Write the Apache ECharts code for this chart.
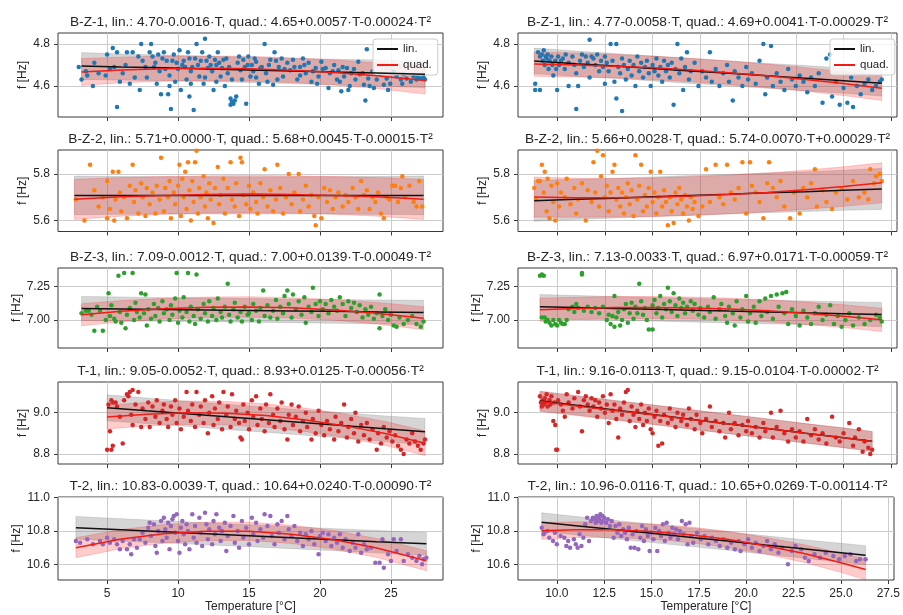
<!DOCTYPE html>
<html>
<head>
<meta charset="utf-8">
<title>Eigenfrequencies vs temperature</title>
<script src="https://cdn.jsdelivr.net/npm/echarts@6/dist/echarts.min.js"></script>
<style>
  html, body { margin: 0; padding: 0; background: #fff; }
  #chart { width: 903px; height: 615px; }
</style>
</head>
<body>
<div id="chart"></div>
<script>
// ---- data ----
const sensors = ['B-Z-1', 'B-Z-2', 'B-Z-3', 'T-1', 'T-2'];
const titlesL = [
  'B-Z-1, lin.: 4.70-0.0016·T, quad.: 4.65+0.0057·T-0.00024·T²',
  'B-Z-2, lin.: 5.71+0.0000·T, quad.: 5.68+0.0045·T-0.00015·T²',
  'B-Z-3, lin.: 7.09-0.0012·T, quad.: 7.00+0.0139·T-0.00049·T²',
  'T-1, lin.: 9.05-0.0052·T, quad.: 8.93+0.0125·T-0.00056·T²',
  'T-2, lin.: 10.83-0.0039·T, quad.: 10.64+0.0240·T-0.00090·T²'
];
const titlesR = [
  'B-Z-1, lin.: 4.77-0.0058·T, quad.: 4.69+0.0041·T-0.00029·T²',
  'B-Z-2, lin.: 5.66+0.0028·T, quad.: 5.74-0.0070·T+0.00029·T²',
  'B-Z-3, lin.: 7.13-0.0033·T, quad.: 6.97+0.0171·T-0.00059·T²',
  'T-1, lin.: 9.16-0.0113·T, quad.: 9.15-0.0104·T-0.00002·T²',
  'T-2, lin.: 10.96-0.0116·T, quad.: 10.65+0.0269·T-0.00114·T²'
];

const xRangeL = [1.54, 28.67];
const xRangeR = [7.95, 27.8];
const xTicksL = [5, 10, 15, 20, 25];
const xTicksR = [10, 12.5, 15, 17.5, 20, 22.5, 25, 27.5];
const yRanges = [[4.452, 4.852], [5.553, 5.903], [6.792, 7.388], [8.751, 9.149], [10.506, 11.004]];
const yTicks = [[4.6, 4.8], [5.6, 5.8], [7.0, 7.25], [8.8, 9.0], [10.6, 10.8, 11.0]];
const yDigits = [1, 1, 2, 1, 1];

// fitted curves, sampled along temperature
const fitTL = [
  [3.2, 6, 9, 12, 15, 18, 21, 24, 27.4],
  [2.7, 6, 9, 12, 15, 18, 21, 24, 27.3],
  [3.2, 6, 9, 12, 15, 18, 21, 24, 27.3],
  [5, 7.8, 10.6, 13.4, 16.2, 19, 21.8, 24.6, 27.4],
  [2.8, 6, 9, 12, 15, 18, 21, 24, 27.5]
];
const linL = [
  [4.695, 4.690, 4.686, 4.681, 4.676, 4.671, 4.666, 4.662, 4.656],
  [5.708, 5.708, 5.708, 5.708, 5.708, 5.708, 5.708, 5.708, 5.708],
  [7.086, 7.083, 7.079, 7.076, 7.072, 7.068, 7.065, 7.061, 7.057],
  [9.024, 9.009, 8.995, 8.980, 8.966, 8.951, 8.937, 8.922, 8.908],
  [10.819, 10.807, 10.795, 10.783, 10.772, 10.760, 10.748, 10.736, 10.723]
];
const quadL = [
  [4.666, 4.676, 4.682, 4.684, 4.682, 4.675, 4.664, 4.649, 4.626],
  [5.691, 5.702, 5.708, 5.712, 5.714, 5.712, 5.708, 5.702, 5.691],
  [7.040, 7.066, 7.085, 7.096, 7.098, 7.091, 7.076, 7.051, 7.014],
  [8.979, 8.993, 9.000, 8.997, 8.986, 8.965, 8.936, 8.899, 8.852],
  [10.700, 10.752, 10.783, 10.798, 10.798, 10.780, 10.747, 10.698, 10.622]
];
const linHwL = [
  [0.064, 0.062, 0.061, 0.060, 0.060, 0.060, 0.061, 0.062, 0.064],
  [0.083, 0.081, 0.080, 0.080, 0.080, 0.080, 0.080, 0.081, 0.083],
  [0.090, 0.089, 0.088, 0.088, 0.088, 0.088, 0.088, 0.089, 0.090],
  [0.063, 0.062, 0.061, 0.061, 0.061, 0.061, 0.061, 0.062, 0.064],
  [0.068, 0.067, 0.066, 0.066, 0.066, 0.066, 0.066, 0.067, 0.068]
];
const quadHwL = [
  [0.064, 0.061, 0.060, 0.059, 0.059, 0.059, 0.060, 0.061, 0.065],
  [0.086, 0.083, 0.081, 0.080, 0.080, 0.080, 0.081, 0.083, 0.086],
  [0.082, 0.079, 0.077, 0.076, 0.076, 0.076, 0.077, 0.080, 0.086],
  [0.058, 0.057, 0.057, 0.057, 0.057, 0.057, 0.057, 0.058, 0.060],
  [0.060, 0.057, 0.056, 0.055, 0.055, 0.055, 0.056, 0.057, 0.060]
];

const fitTR = [
  [8.8, 11, 13, 15, 17, 19, 21, 23, 25, 27],
  [8.8, 11, 13, 15, 17, 19, 21, 23, 25, 27],
  [9.1, 11, 13, 15, 17, 19, 21, 23, 25, 27],
  [9.1, 11, 13, 15, 17, 19, 21, 23, 25, 26.5],
  [9.2, 11, 13, 15, 17, 19, 21, 23, 25, 26.3]
];
const linR = [
  [4.719, 4.706, 4.695, 4.683, 4.671, 4.660, 4.648, 4.637, 4.625, 4.613],
  [5.685, 5.691, 5.696, 5.702, 5.708, 5.713, 5.719, 5.724, 5.730, 5.736],
  [7.100, 7.094, 7.087, 7.081, 7.074, 7.067, 7.061, 7.054, 7.048, 7.041],
  [9.057, 9.036, 9.013, 8.991, 8.968, 8.945, 8.923, 8.900, 8.878, 8.861],
  [10.853, 10.832, 10.809, 10.786, 10.763, 10.740, 10.716, 10.693, 10.670, 10.655]
];
const quadR = [
  [4.704, 4.700, 4.694, 4.686, 4.676, 4.663, 4.648, 4.631, 4.611, 4.589],
  [5.701, 5.698, 5.698, 5.700, 5.705, 5.712, 5.721, 5.732, 5.746, 5.762],
  [7.077, 7.087, 7.093, 7.094, 7.090, 7.082, 7.069, 7.051, 7.029, 7.002],
  [9.054, 9.033, 9.011, 8.990, 8.967, 8.945, 8.923, 8.900, 8.878, 8.860],
  [10.801, 10.808, 10.807, 10.797, 10.778, 10.750, 10.712, 10.666, 10.610, 10.569]
];
const linHwR = [
  [0.061, 0.060, 0.059, 0.059, 0.059, 0.059, 0.059, 0.060, 0.060, 0.061],
  [0.088, 0.086, 0.085, 0.085, 0.085, 0.085, 0.085, 0.085, 0.086, 0.088],
  [0.090, 0.089, 0.088, 0.088, 0.088, 0.088, 0.088, 0.089, 0.089, 0.090],
  [0.048, 0.047, 0.047, 0.047, 0.047, 0.047, 0.047, 0.047, 0.048, 0.048],
  [0.056, 0.055, 0.055, 0.055, 0.055, 0.055, 0.055, 0.055, 0.056, 0.057]
];
const quadHwR = [
  [0.058, 0.057, 0.056, 0.056, 0.056, 0.056, 0.056, 0.056, 0.057, 0.058],
  [0.086, 0.084, 0.083, 0.083, 0.083, 0.083, 0.083, 0.084, 0.085, 0.086],
  [0.086, 0.083, 0.082, 0.082, 0.082, 0.082, 0.082, 0.083, 0.085, 0.087],
  [0.048, 0.047, 0.047, 0.047, 0.047, 0.047, 0.047, 0.047, 0.048, 0.048],
  [0.050, 0.047, 0.046, 0.046, 0.047, 0.048, 0.050, 0.053, 0.058, 0.062]
];

// measured points [temperature, frequency]
const bz1L = [[3.0,4.69],[3.2,4.63],[3.5,4.67],[3.6,4.65],[4.0,4.60],[4.1,4.71],[4.4,4.66],[4.9,4.65],[5.0,4.75],[5.2,4.68],[5.4,4.78],[5.5,4.69],[5.7,4.76],[5.7,4.50],[5.9,4.62],[6.1,4.66],[6.3,4.70],[6.4,4.76],[6.6,4.61],[6.8,4.76],[6.95,4.64],[7.2,4.74],[7.3,4.58],[7.4,4.80],[7.5,4.72],[7.7,4.69],[7.8,4.64],[8.0,4.76],[8.1,4.80],[8.2,4.74],[8.3,4.69],[8.4,4.71],[8.5,4.61],[8.6,4.75],[8.7,4.67],[8.8,4.56],[8.9,4.73],[9.0,4.76],[9.1,4.68],[9.2,4.72],[9.3,4.56],[9.4,4.65],[9.4,4.60],[9.5,4.49],[9.6,4.72],[9.7,4.75],[9.8,4.62],[9.9,4.71],[10.0,4.68],[10.1,4.77],[10.2,4.58],[10.3,4.70],[10.4,4.72],[10.5,4.69],[10.6,4.63],[10.7,4.76],[10.8,4.55],[10.8,4.73],[10.9,4.67],[10.9,4.61],[11.0,4.69],[11.1,4.485],[11.2,4.73],[11.3,4.80],[11.4,4.70],[11.5,4.645],[11.6,4.72],[11.7,4.76],[11.8,4.61],[11.9,4.825],[11.9,4.64],[12.0,4.72],[12.1,4.685],[12.2,4.74],[12.3,4.70],[12.4,4.67],[12.5,4.58],[12.6,4.725],[12.7,4.70],[12.7,4.62],[12.8,4.76],[12.9,4.71],[13.0,4.645],[13.1,4.685],[13.2,4.725],[13.3,4.60],[13.4,4.73],[13.5,4.66],[13.6,4.69],[13.7,4.54],[13.7,4.51],[13.8,4.525],[13.8,4.63],[13.9,4.515],[14.0,4.53],[14.1,4.55],[14.2,4.71],[14.3,4.74],[14.4,4.675],[14.5,4.63],[14.6,4.725],[14.7,4.69],[14.8,4.515],[14.9,4.70],[14.95,4.74],[15.1,4.645],[15.2,4.70],[15.3,4.67],[15.4,4.73],[15.5,4.715],[15.5,4.64],[15.7,4.61],[15.8,4.685],[15.9,4.69],[16.1,4.80],[16.2,4.66],[16.3,4.62],[16.4,4.70],[16.5,4.725],[16.7,4.605],[16.8,4.76],[16.9,4.72],[17.0,4.63],[17.1,4.69],[17.3,4.73],[17.4,4.645],[17.5,4.68],[17.7,4.71],[17.9,4.675],[18.1,4.725],[18.2,4.69],[18.4,4.63],[18.6,4.69],[18.6,4.65],[18.8,4.73],[18.9,4.70],[19.0,4.66],[19.2,4.71],[19.4,4.62],[19.5,4.67],[19.7,4.685],[19.8,4.61],[19.9,4.645],[20.1,4.715],[20.2,4.68],[20.4,4.685],[20.6,4.59],[20.7,4.66],[20.9,4.67],[21.0,4.70],[21.2,4.63],[21.3,4.675],[21.4,4.62],[21.5,4.575],[21.6,4.69],[21.7,4.645],[21.9,4.685],[22.0,4.58],[22.1,4.60],[22.2,4.66],[22.4,4.68],[22.5,4.63],[22.7,4.715],[22.8,4.655],[23.0,4.66],[23.1,4.605],[23.2,4.53],[23.3,4.775],[23.4,4.635],[23.5,4.60],[23.7,4.67],[23.8,4.59],[24.0,4.63],[24.2,4.655],[24.5,4.605],[24.7,4.635],[24.8,4.58],[24.95,4.61],[25.2,4.67],[25.4,4.645],[25.7,4.63],[25.8,4.61],[25.9,4.655],[26.1,4.635],[26.4,4.62],[26.6,4.645],[26.8,4.63],[26.9,4.64],[27.1,4.635],[27.3,4.64],[27.4,4.63]];
const bz2L = [[2.8,5.69],[3.4,5.60],[3.8,5.84],[4.1,5.73],[4.4,5.66],[4.7,5.70],[5.0,5.77],[5.0,5.61],[5.2,5.65],[5.4,5.81],[5.5,5.60],[5.6,5.69],[5.8,5.81],[5.9,5.72],[6.0,5.64],[6.2,5.70],[6.4,5.61],[6.6,5.75],[6.8,5.84],[6.9,5.68],[7.0,5.73],[7.2,5.63],[7.4,5.76],[7.5,5.70],[7.7,5.62],[7.8,5.74],[8.0,5.67],[8.2,5.72],[8.4,5.63],[8.5,5.75],[8.7,5.69],[8.8,5.87],[9.0,5.64],[9.1,5.74],[9.3,5.70],[9.4,5.77],[9.5,5.61],[9.7,5.72],[9.8,5.67],[10.0,5.75],[10.1,5.84],[10.2,5.62],[10.3,5.78],[10.4,5.70],[10.5,5.81],[10.6,5.65],[10.7,5.85],[10.8,5.73],[10.9,5.60],[11.0,5.77],[11.1,5.68],[11.2,5.85],[11.3,5.90],[11.4,5.63],[11.5,5.74],[11.6,5.70],[11.8,5.79],[11.9,5.66],[12.0,5.72],[12.1,5.61],[12.2,5.76],[12.3,5.69],[12.5,5.59],[12.6,5.74],[12.8,5.83],[12.9,5.67],[13.0,5.71],[13.2,5.78],[13.3,5.63],[13.5,5.74],[13.7,5.85],[13.8,5.69],[14.0,5.66],[14.1,5.76],[14.3,5.62],[14.4,5.87],[14.5,5.85],[14.6,5.71],[14.8,5.67],[15.0,5.75],[15.1,5.65],[15.3,5.72],[15.5,5.68],[15.6,5.63],[15.8,5.76],[16.0,5.70],[16.1,5.82],[16.3,5.66],[16.5,5.73],[16.7,5.64],[16.9,5.69],[17.0,5.84],[17.2,5.74],[17.4,5.63],[17.6,5.70],[17.8,5.80],[18.0,5.67],[18.2,5.72],[18.5,5.80],[18.6,5.64],[18.8,5.69],[19.0,5.75],[19.2,5.66],[19.4,5.71],[19.6,5.62],[19.7,5.58],[19.9,5.70],[20.1,5.61],[20.3,5.74],[20.5,5.68],[20.7,5.73],[20.9,5.65],[21.1,5.70],[21.3,5.72],[21.6,5.66],[21.8,5.71],[22.0,5.68],[22.3,5.74],[22.5,5.70],[22.7,5.65],[22.9,5.77],[23.1,5.71],[23.3,5.73],[23.5,5.65],[23.7,5.70],[23.9,5.68],[24.1,5.72],[24.3,5.63],[24.5,5.61],[24.7,5.70],[24.9,5.69],[25.1,5.75],[25.3,5.75],[25.5,5.68],[25.7,5.74],[25.8,5.79],[26.0,5.70],[26.3,5.75],[26.6,5.68],[26.8,5.66],[27.0,5.77],[27.2,5.66]];
const bz3L = [[3.2,7.05],[3.5,7.07],[3.7,7.07],[3.9,7.04],[4.1,6.92],[4.3,7.10],[4.5,7.07],[4.7,6.92],[4.9,7.00],[5.1,7.20],[5.2,7.03],[5.3,7.11],[5.5,7.01],[5.6,6.99],[5.8,7.33],[5.9,7.06],[6.0,6.98],[6.2,7.35],[6.3,6.94],[6.4,7.04],[6.6,7.09],[6.8,7.35],[6.9,7.00],[7.0,7.13],[7.1,7.06],[7.3,7.02],[7.4,7.20],[7.6,7.05],[7.7,7.19],[7.8,6.96],[7.9,7.08],[8.1,7.01],[8.3,7.12],[8.4,7.03],[8.6,7.09],[8.7,6.99],[8.9,7.14],[9.0,7.05],[9.2,7.08],[9.4,7.00],[9.5,7.11],[9.6,7.04],[9.8,7.16],[9.9,7.35],[10.0,6.98],[10.1,7.07],[10.3,7.02],[10.4,7.17],[10.6,7.06],[10.7,7.35],[10.8,6.99],[10.9,7.10],[11.1,7.03],[11.2,6.97],[11.3,7.34],[11.4,7.08],[11.6,7.01],[11.8,7.12],[11.9,7.05],[12.1,6.99],[12.2,7.14],[12.4,7.03],[12.5,7.09],[12.7,7.00],[12.8,7.16],[13.0,7.06],[13.1,7.02],[13.3,7.10],[13.5,7.27],[13.6,7.04],[13.7,6.99],[13.9,7.08],[14.0,7.13],[14.2,7.02],[14.4,7.06],[14.5,6.99],[14.7,7.10],[14.9,7.04],[15.0,7.05],[15.2,7.00],[15.3,7.12],[15.5,7.07],[15.7,6.99],[15.8,7.09],[16.0,7.22],[16.1,7.03],[16.3,7.11],[16.5,7.02],[16.7,7.07],[16.9,7.15],[17.0,7.01],[17.2,7.10],[17.4,7.05],[17.5,7.18],[17.7,7.22],[17.8,7.12],[18.0,7.02],[18.1,7.19],[18.3,7.08],[18.5,7.14],[18.7,7.04],[18.9,7.17],[19.0,6.98],[19.2,7.10],[19.4,7.06],[19.5,7.24],[19.7,7.12],[19.9,7.03],[20.0,7.14],[20.2,7.08],[20.4,7.12],[20.6,7.05],[20.8,7.15],[21.0,7.10],[21.2,7.07],[21.4,7.17],[21.6,7.12],[21.8,7.03],[22.0,7.14],[22.2,7.09],[22.4,7.13],[22.6,7.06],[22.8,7.11],[23.0,7.02],[23.2,7.08],[23.4,7.04],[23.6,7.10],[23.8,7.01],[24.0,7.05],[24.2,7.19],[24.2,6.94],[24.4,7.03],[24.6,7.08],[24.8,7.00],[25.0,7.04],[25.2,6.96],[25.4,6.95],[25.6,7.02],[25.9,6.97],[26.2,7.00],[26.5,7.03],[26.8,6.97],[27.1,6.95],[27.3,6.99]];
const t1L = [[5.0,8.82],[5.3,8.82],[5.4,8.84],[5.2,8.91],[5.1,9.04],[5.3,9.06],[5.4,9.05],[5.6,9.05],[5.7,9.03],[5.9,8.98],[6.1,8.85],[6.2,9.06],[6.4,9.09],[6.5,9.08],[6.6,9.10],[6.7,8.99],[6.8,9.11],[6.8,8.94],[7.0,9.04],[7.2,9.10],[7.4,8.93],[7.5,9.02],[7.7,8.97],[7.9,9.05],[8.0,8.93],[8.2,9.03],[8.4,8.98],[8.5,9.06],[8.7,8.95],[8.9,9.01],[9.0,9.04],[9.2,8.97],[9.3,8.93],[9.5,9.03],[9.6,8.99],[9.8,9.06],[9.9,8.95],[10.1,9.02],[10.2,8.92],[10.4,8.98],[10.6,9.10],[10.7,9.01],[10.9,8.96],[11.0,9.04],[11.2,8.93],[11.3,9.10],[11.5,8.99],[11.6,9.03],[11.8,8.95],[11.9,9.06],[12.1,8.90],[12.2,9.00],[12.4,9.08],[12.5,8.94],[12.6,9.02],[12.8,8.97],[12.9,9.05],[13.1,8.92],[13.2,9.10],[13.4,8.99],[13.5,9.03],[13.7,8.93],[13.8,9.09],[14.0,8.97],[14.1,9.01],[14.3,8.95],[14.4,8.88],[14.5,8.87],[14.6,9.04],[14.7,8.96],[14.9,9.00],[15.0,8.92],[15.2,9.06],[15.3,8.98],[15.5,9.08],[15.6,8.94],[15.8,9.02],[15.9,8.97],[16.1,8.91],[16.2,9.04],[16.4,8.95],[16.5,9.09],[16.7,8.99],[16.8,8.93],[17.0,9.02],[17.2,8.96],[17.3,9.05],[17.5,8.92],[17.7,8.87],[17.8,8.99],[18.0,9.04],[18.1,8.94],[18.3,8.98],[18.5,9.03],[18.6,8.91],[18.8,8.96],[19.0,9.00],[19.1,8.93],[19.4,8.87],[19.5,8.97],[19.7,8.90],[19.9,9.01],[20.1,8.94],[20.3,8.89],[20.5,8.96],[20.7,8.92],[21.0,8.87],[21.1,8.98],[21.3,8.91],[21.5,8.95],[21.7,9.04],[21.9,8.88],[22.0,8.93],[22.2,8.97],[22.4,8.90],[22.5,9.00],[22.7,8.86],[22.9,8.94],[23.1,8.89],[23.3,8.95],[23.5,8.87],[23.7,8.92],[24.0,8.82],[24.1,8.90],[24.3,8.85],[24.5,8.93],[24.7,8.88],[24.9,8.91],[25.1,8.86],[25.3,8.89],[25.5,8.84],[25.7,8.82],[25.9,8.80],[26.1,8.87],[26.3,8.85],[26.5,8.90],[26.7,8.86],[26.9,8.84],[27.1,8.82],[27.3,8.85],[27.4,8.87]];
const t2L = [[2.8,10.74],[3.1,10.73],[3.6,10.75],[4.0,10.72],[4.5,10.74],[4.7,10.72],[5.0,10.76],[5.2,10.73],[5.5,10.75],[5.7,10.72],[5.9,10.69],[6.1,10.74],[6.4,10.69],[6.6,10.72],[6.7,10.66],[6.9,10.75],[7.1,10.70],[7.3,10.75],[7.5,10.79],[7.7,10.73],[7.9,10.82],[8.0,10.85],[8.1,10.77],[8.3,10.84],[8.4,10.71],[8.5,10.67],[8.6,10.80],[8.8,10.86],[8.9,10.74],[9.0,10.88],[9.1,10.81],[9.2,10.76],[9.3,10.85],[9.4,10.69],[9.5,10.83],[9.6,10.87],[9.7,10.89],[9.8,10.79],[9.9,10.90],[10.0,10.74],[10.1,10.67],[10.2,10.82],[10.3,10.86],[10.4,10.78],[10.5,10.72],[10.6,10.84],[10.7,10.80],[10.8,10.69],[11.0,10.90],[11.1,10.76],[11.2,10.83],[11.3,10.73],[11.5,10.88],[11.6,10.79],[11.7,10.71],[11.9,10.91],[12.0,10.84],[12.1,10.75],[12.2,10.81],[12.4,10.72],[12.5,10.86],[12.6,10.78],[12.7,10.90],[12.9,10.82],[13.0,10.74],[13.1,10.80],[13.3,10.85],[13.4,10.68],[13.5,10.77],[13.7,10.83],[13.9,10.89],[14.0,10.73],[14.2,10.80],[14.3,10.70],[14.5,10.86],[14.6,10.76],[14.8,10.82],[15.0,10.72],[15.2,10.88],[15.3,10.78],[15.5,10.85],[15.6,10.74],[15.8,10.81],[16.0,10.76],[16.1,10.90],[16.3,10.83],[16.5,10.89],[16.6,10.77],[16.8,10.72],[17.0,10.84],[17.1,10.79],[17.3,10.86],[17.5,10.75],[17.7,10.89],[17.8,10.81],[18.0,10.77],[18.2,10.83],[18.4,10.74],[18.6,10.79],[18.8,10.71],[19.0,10.78],[19.2,10.75],[19.4,10.80],[19.6,10.72],[19.9,10.66],[20.0,10.77],[20.2,10.79],[20.4,10.74],[20.6,10.78],[20.8,10.71],[21.0,10.76],[21.2,10.73],[21.4,10.78],[21.6,10.70],[21.8,10.75],[22.1,10.68],[22.3,10.73],[22.5,10.70],[22.7,10.78],[22.9,10.67],[23.1,10.72],[23.3,10.69],[23.6,10.70],[23.9,10.61],[24.2,10.61],[24.4,10.75],[24.5,10.58],[24.8,10.66],[25.0,10.62],[25.2,10.75],[25.4,10.68],[25.7,10.75],[25.9,10.62],[26.2,10.66],[26.5,10.64],[26.8,10.62],[27.0,10.65],[27.2,10.60],[27.3,10.63],[27.5,10.64]];

const bz1R = [[8.85,4.58],[8.85,4.61],[9.1,4.58],[9.0,4.76],[9.1,4.74],[9.2,4.75],[9.25,4.72],[9.3,4.77],[9.35,4.70],[9.4,4.74],[9.45,4.73],[9.5,4.75],[9.55,4.68],[9.6,4.72],[9.7,4.74],[9.75,4.70],[9.8,4.65],[9.9,4.72],[9.95,4.68],[10.0,4.58],[10.05,4.74],[10.1,4.70],[10.2,4.72],[10.3,4.73],[10.4,4.68],[10.45,4.75],[10.6,4.60],[10.6,4.71],[10.8,4.74],[10.9,4.70],[11.0,4.49],[11.0,4.66],[11.1,4.60],[11.2,4.72],[11.3,4.75],[11.4,4.69],[11.5,4.74],[11.6,4.71],[11.7,4.82],[11.7,4.64],[11.8,4.74],[11.9,4.73],[12.0,4.70],[12.1,4.75],[12.2,4.67],[12.3,4.72],[12.4,4.69],[12.5,4.61],[12.5,4.74],[12.6,4.71],[12.7,4.67],[12.8,4.80],[12.9,4.72],[13.0,4.62],[13.1,4.80],[13.1,4.54],[13.2,4.69],[13.3,4.66],[13.4,4.48],[13.4,4.73],[13.5,4.70],[13.6,4.63],[13.7,4.68],[13.8,4.72],[13.9,4.65],[14.0,4.70],[14.1,4.60],[14.2,4.74],[14.3,4.67],[14.4,4.71],[14.5,4.64],[14.6,4.69],[14.7,4.72],[14.8,4.66],[14.9,4.60],[15.0,4.70],[15.1,4.67],[15.2,4.73],[15.3,4.65],[15.4,4.69],[15.5,4.62],[15.6,4.72],[15.7,4.67],[15.8,4.70],[15.9,4.64],[16.0,4.71],[16.1,4.51],[16.2,4.68],[16.3,4.80],[16.4,4.66],[16.5,4.73],[16.6,4.58],[16.7,4.69],[16.8,4.76],[16.9,4.63],[17.0,4.67],[17.2,4.71],[17.4,4.60],[17.6,4.67],[17.8,4.64],[18.0,4.76],[18.1,4.62],[18.3,4.68],[18.5,4.60],[18.7,4.66],[18.9,4.70],[19.0,4.62],[19.2,4.53],[19.3,4.67],[19.5,4.64],[19.7,4.60],[19.9,4.69],[20.0,4.63],[20.2,4.66],[20.4,4.61],[20.6,4.72],[20.8,4.80],[20.9,4.56],[21.0,4.64],[21.2,4.79],[21.3,4.60],[21.5,4.66],[21.7,4.62],[21.9,4.58],[22.1,4.68],[22.3,4.63],[22.5,4.60],[22.7,4.65],[22.9,4.62],[23.1,4.57],[23.3,4.64],[23.5,4.60],[23.7,4.66],[23.9,4.52],[24.1,4.73],[24.3,4.75],[24.4,4.55],[24.6,4.62],[24.8,4.51],[25.0,4.59],[25.2,4.52],[25.4,4.64],[25.5,4.50],[25.7,4.60],[25.9,4.56],[26.1,4.61],[26.3,4.63],[26.5,4.58],[26.7,4.60],[26.9,4.62],[27.0,4.63]];
const bz2R = [[8.8,5.74],[8.9,5.69],[9.0,5.77],[9.1,5.77],[9.2,5.84],[9.3,5.72],[9.35,5.81],[9.45,5.64],[9.5,5.78],[9.6,5.61],[9.7,5.75],[9.8,5.68],[9.9,5.60],[10.0,5.76],[10.1,5.66],[10.2,5.72],[10.4,5.70],[10.5,5.78],[10.7,5.67],[10.9,5.74],[11.0,5.63],[11.1,5.69],[11.3,5.76],[11.5,5.60],[11.6,5.73],[11.8,5.68],[11.9,5.85],[12.0,5.72],[12.1,5.90],[12.2,5.66],[12.3,5.79],[12.4,5.88],[12.5,5.70],[12.6,5.75],[12.7,5.64],[12.8,5.72],[12.9,5.81],[13.0,5.84],[13.1,5.69],[13.2,5.74],[13.3,5.66],[13.4,5.72],[13.5,5.63],[13.6,5.70],[13.7,5.76],[13.8,5.67],[13.9,5.73],[14.0,5.62],[14.1,5.88],[14.2,5.69],[14.3,5.75],[14.4,5.84],[14.5,5.64],[14.6,5.71],[14.7,5.66],[14.8,5.74],[14.9,5.81],[15.0,5.68],[15.1,5.72],[15.2,5.63],[15.3,5.70],[15.4,5.81],[15.5,5.66],[15.6,5.73],[15.7,5.68],[15.8,5.58],[15.9,5.70],[16.0,5.64],[16.1,5.59],[16.2,5.72],[16.3,5.67],[16.4,5.74],[16.5,5.69],[16.6,5.63],[16.7,5.71],[16.8,5.66],[16.9,5.60],[17.0,5.70],[17.1,5.65],[17.2,5.68],[17.4,5.62],[17.6,5.66],[17.8,5.82],[18.0,5.68],[18.3,5.84],[18.5,5.70],[18.7,5.67],[18.9,5.84],[19.1,5.72],[19.3,5.69],[19.5,5.74],[19.7,5.85],[19.9,5.63],[20.1,5.85],[20.2,5.75],[20.4,5.72],[20.6,5.68],[20.8,5.61],[21.0,5.76],[21.1,5.85],[21.3,5.74],[21.5,5.70],[21.7,5.77],[21.9,5.66],[22.2,5.61],[22.4,5.72],[22.7,5.63],[22.9,5.74],[23.1,5.70],[23.3,5.76],[23.5,5.82],[23.6,5.66],[23.9,5.73],[24.1,5.68],[24.4,5.65],[24.6,5.72],[24.9,5.74],[25.2,5.69],[25.5,5.77],[25.8,5.70],[26.1,5.72],[26.3,5.69],[26.4,5.82],[26.6,5.76],[26.7,5.79],[26.9,5.80],[27.0,5.77]];
const bz3R = [[9.1,7.33],[9.2,7.34],[9.3,7.33],[9.2,7.02],[9.35,7.02],[9.4,6.99],[9.5,7.00],[9.6,6.98],[9.7,6.96],[9.8,7.00],[9.9,6.97],[10.0,6.96],[10.1,7.00],[10.2,6.98],[10.3,6.97],[10.4,6.97],[10.5,7.00],[10.6,7.08],[10.8,7.10],[10.9,7.06],[11.0,7.12],[11.1,7.09],[11.3,7.34],[11.3,7.35],[11.4,7.07],[11.6,7.10],[11.8,7.06],[12.0,7.09],[12.2,7.05],[12.4,7.10],[12.6,7.00],[12.7,7.04],[12.8,6.97],[12.9,7.03],[13.0,7.18],[13.0,6.95],[13.1,7.02],[13.2,7.06],[13.3,6.96],[13.4,7.00],[13.5,7.08],[13.6,7.12],[13.7,6.98],[13.8,7.05],[13.9,7.13],[14.0,7.01],[14.1,7.10],[14.2,7.05],[14.3,7.27],[14.4,7.14],[14.5,7.04],[14.6,7.09],[14.7,7.00],[14.8,6.93],[15.0,6.93],[15.0,7.11],[15.1,7.15],[15.2,7.05],[15.3,7.09],[15.4,7.18],[15.5,7.02],[15.6,7.12],[15.7,7.08],[15.8,7.24],[15.9,7.14],[16.0,7.06],[16.1,7.20],[16.2,7.11],[16.3,7.03],[16.4,7.16],[16.5,7.09],[16.6,7.13],[16.7,7.05],[16.8,7.10],[17.0,7.14],[17.1,7.07],[17.2,7.12],[17.4,7.04],[17.5,7.09],[17.7,7.02],[17.9,7.10],[18.0,7.06],[18.2,7.17],[18.3,7.01],[18.5,7.08],[18.6,7.12],[18.8,7.03],[18.9,6.98],[19.0,7.10],[19.2,7.05],[19.3,6.96],[19.4,7.14],[19.6,7.02],[19.7,7.08],[19.9,7.18],[20.0,6.99],[20.1,7.05],[20.3,7.10],[20.4,6.98],[20.6,7.14],[20.7,7.03],[20.9,7.16],[21.0,7.06],[21.2,7.18],[21.3,7.01],[21.5,7.19],[21.6,7.10],[21.8,7.20],[21.9,7.05],[22.0,7.21],[22.1,6.97],[22.3,7.08],[22.5,7.03],[22.7,6.96],[22.9,7.07],[23.1,7.02],[23.3,6.97],[23.5,7.05],[23.7,7.10],[23.9,7.00],[24.1,7.04],[24.3,7.11],[24.5,6.97],[24.7,7.03],[24.9,6.95],[25.1,7.00],[25.3,7.05],[25.5,6.96],[25.8,7.02],[26.1,6.97],[26.4,7.00],[26.7,7.04],[26.9,7.02],[27.0,6.99]];
const t1R = [[9.1,9.08],[9.15,9.05],[9.2,9.03],[9.25,9.06],[9.3,9.04],[9.35,9.07],[9.4,9.05],[9.45,9.09],[9.5,9.03],[9.6,9.06],[9.65,9.04],[9.7,9.08],[9.8,8.96],[9.85,9.05],[9.9,8.94],[9.95,8.82],[10.0,8.82],[10.05,9.06],[10.2,9.04],[10.3,9.01],[10.4,8.98],[10.5,9.09],[10.6,9.05],[10.8,9.02],[10.9,9.07],[11.1,9.10],[11.2,9.03],[11.3,8.91],[11.4,9.06],[11.5,9.08],[11.6,9.04],[11.7,9.01],[11.8,9.07],[11.9,9.03],[12.0,9.06],[12.1,8.98],[12.2,9.05],[12.3,9.02],[12.4,9.08],[12.5,9.00],[12.6,9.04],[12.7,8.95],[12.8,9.09],[12.9,9.01],[13.0,9.04],[13.1,8.97],[13.2,8.88],[13.3,9.02],[13.4,8.99],[13.5,9.05],[13.6,9.10],[13.7,9.11],[13.8,8.96],[13.9,9.03],[14.0,8.99],[14.1,8.93],[14.2,9.01],[14.3,8.97],[14.4,9.04],[14.5,8.94],[14.6,9.00],[14.7,8.96],[14.8,9.02],[14.9,8.92],[15.0,8.90],[15.1,8.98],[15.2,9.01],[15.3,8.84],[15.4,8.96],[15.5,8.85],[15.6,8.99],[15.8,8.95],[15.9,9.02],[16.0,8.97],[16.2,8.93],[16.3,9.00],[16.5,8.96],[16.6,8.99],[16.8,8.94],[16.9,9.02],[17.0,8.97],[17.2,8.92],[17.3,8.99],[17.5,8.95],[17.6,8.90],[17.8,8.97],[18.0,9.03],[18.1,8.93],[18.3,8.96],[18.5,8.91],[18.7,8.95],[18.8,8.88],[19.0,9.00],[19.1,8.92],[19.3,8.95],[19.5,8.89],[19.7,8.94],[19.9,8.91],[20.0,8.96],[20.2,8.90],[20.4,8.93],[20.6,8.88],[20.8,8.95],[20.9,8.91],[21.2,9.00],[21.3,8.88],[21.5,8.93],[21.7,9.01],[21.9,8.90],[22.1,8.86],[22.3,8.92],[22.5,8.88],[22.7,8.91],[22.9,8.86],[23.1,8.97],[23.3,8.89],[23.5,8.92],[23.7,8.87],[23.9,8.90],[24.1,8.85],[24.4,8.98],[24.6,8.88],[24.8,8.86],[25.0,8.90],[25.3,8.95],[25.5,8.84],[25.6,8.88],[25.8,8.92],[26.0,8.81],[26.1,8.86],[26.3,8.83],[26.4,8.80],[26.5,8.82]];
const t2R = [[9.2,10.82],[9.3,10.78],[9.35,10.79],[9.5,10.80],[9.6,10.76],[9.8,10.74],[9.9,10.79],[10.0,10.72],[10.2,10.77],[10.4,10.76],[10.5,10.71],[10.6,10.74],[10.7,10.70],[10.9,10.75],[11.0,10.72],[11.1,10.70],[11.2,10.78],[11.3,10.71],[11.4,10.76],[11.5,10.84],[11.6,10.88],[11.7,10.74],[11.8,10.86],[11.9,10.88],[12.0,10.87],[12.05,10.85],[12.1,10.89],[12.15,10.86],[12.2,10.88],[12.25,10.87],[12.3,10.90],[12.35,10.85],[12.4,10.89],[12.45,10.86],[12.5,10.88],[12.6,10.85],[12.7,10.87],[12.8,10.83],[12.9,10.86],[13.0,10.76],[13.1,10.83],[13.2,10.79],[13.3,10.84],[13.4,10.77],[13.5,10.81],[13.6,10.79],[13.7,10.75],[13.8,10.82],[13.9,10.70],[14.0,10.78],[14.1,10.70],[14.2,10.80],[14.3,10.69],[14.4,10.76],[14.5,10.83],[14.6,10.74],[14.7,10.81],[14.8,10.77],[14.9,10.68],[15.0,10.79],[15.1,10.75],[15.2,10.82],[15.3,10.68],[15.4,10.80],[15.5,10.77],[15.6,10.84],[15.7,10.74],[15.8,10.85],[15.9,10.79],[16.0,10.76],[16.1,10.82],[16.2,10.78],[16.3,10.81],[16.4,10.75],[16.5,10.80],[16.6,10.86],[16.7,10.78],[16.8,10.84],[16.9,10.72],[17.0,10.85],[17.1,10.77],[17.2,10.73],[17.4,10.79],[17.6,10.75],[17.8,10.77],[18.0,10.72],[18.2,10.76],[18.4,10.74],[18.6,10.71],[18.8,10.75],[19.0,10.70],[19.2,10.73],[19.4,10.69],[19.6,10.74],[19.7,10.68],[19.9,10.72],[20.1,10.75],[20.3,10.70],[20.5,10.73],[20.7,10.68],[20.9,10.71],[21.1,10.74],[21.3,10.69],[21.5,10.72],[21.7,10.67],[21.9,10.70],[22.2,10.60],[22.4,10.68],[22.6,10.71],[22.9,10.69],[23.1,10.64],[23.3,10.62],[23.6,10.66],[23.9,10.64],[24.2,10.67],[24.6,10.65],[24.9,10.63],[25.2,10.65],[25.5,10.66],[25.8,10.62],[26.0,10.63],[26.3,10.63]];

const pointsL = [bz1L, bz2L, bz3L, t1L, t2L];
const pointsR = [bz1R, bz2R, bz3R, t1R, t2R];

// ---- layout / style ----
const dotColors = ['#1f77b4', '#ff7f0e', '#2ca02c', '#d62728', '#9467bd'];
const fontFamily = '"Liberation Sans", Arial, sans-serif';
const textColor = '#262626';
const colLeft = [58, 518];
const colWidth = [385, 379];
const rowTop = [33, 150, 268, 382, 497];
const rowHeight = [84, 81.5, 80, 82, 83];

const chart = echarts.init(document.getElementById('chart'));

const grids = [], xAxes = [], yAxes = [], titles = [], series = [];

// confidence band: polygon through lower edge then back along upper edge
function bandSeries(g, temps, mid, hw, fill, edge) {
  const rows = temps.map((t, i) => [t, mid[i] - hw[i], mid[i] + hw[i]]);
  return {
    type: 'custom', name: 'band', xAxisIndex: g, yAxisIndex: g, data: rows,
    encode: { x: 0, y: [1, 2] }, silent: true, z: 2, clip: true,
    renderItem: function (params, api) {
      if (params.dataIndex !== 0) return null;
      const lower = rows.map(d => api.coord([d[0], d[1]]));
      const upper = rows.map(d => api.coord([d[0], d[2]])).reverse();
      return {
        type: 'polygon',
        shape: { points: lower.concat(upper) },
        style: { fill: fill, stroke: edge, lineWidth: 0.8 }
      };
    }
  };
}

for (let c = 0; c < 2; c++) {
  const temps = c === 0 ? fitTL : fitTR;
  const lin = c === 0 ? linL : linR;
  const quad = c === 0 ? quadL : quadR;
  const linHw = c === 0 ? linHwL : linHwR;
  const quadHw = c === 0 ? quadHwL : quadHwR;
  const pts = c === 0 ? pointsL : pointsR;
  const xr = c === 0 ? xRangeL : xRangeR;
  const xt = c === 0 ? xTicksL : xTicksR;
  const tt = c === 0 ? titlesL : titlesR;

  for (let r = 0; r < 5; r++) {
    const g = grids.length;
    const last = r === 4;
    grids.push({
      left: colLeft[c], top: rowTop[r], width: colWidth[c], height: rowHeight[r],
      show: true, borderColor: '#3a3a3a', borderWidth: 1, backgroundColor: '#fff'
    });
    xAxes.push({
      gridIndex: g, type: 'value', min: xr[0], max: xr[1],
      axisLine: { show: false, onZero: false },
      axisTick: { show: true, length: 4, customValues: xt, lineStyle: { color: '#3a3a3a' } },
      axisLabel: {
        show: last, customValues: xt, margin: 8, fontSize: 12, color: textColor, fontFamily,
        formatter: v => c === 0 ? String(v) : v.toFixed(1)
      },
      splitLine: { show: true, lineStyle: { color: '#cccccc', width: 1 } },
      name: last ? 'Temperature [°C]' : '', nameLocation: 'middle', nameGap: 21,
      nameTextStyle: { fontSize: 12, color: textColor, fontFamily }
    });
    yAxes.push({
      gridIndex: g, type: 'value', min: yRanges[r][0], max: yRanges[r][1],
      axisLine: { show: false, onZero: false },
      axisTick: { show: true, length: 4, customValues: yTicks[r], lineStyle: { color: '#3a3a3a' } },
      axisLabel: {
        customValues: yTicks[r], margin: 8, fontSize: 12, color: textColor, fontFamily,
        formatter: v => v.toFixed(yDigits[r])
      },
      splitLine: { show: true, lineStyle: { color: '#cccccc', width: 1 } },
      name: 'f [Hz]', nameLocation: 'middle', nameGap: 29,
      nameTextStyle: { fontSize: 12, color: textColor, fontFamily }
    });
    titles.push({
      text: tt[r], left: colLeft[c] + colWidth[c] / 2, top: rowTop[r] - 17.5,
      textAlign: 'center', padding: 0,
      textStyle: { fontSize: 13.7, fontWeight: 'normal', color: textColor, fontFamily }
    });

    const lt = temps[r];
    series.push(bandSeries(g, lt, lin[r], linHw[r], 'rgba(128,128,128,0.33)', 'rgba(128,128,128,0.3)'));
    series.push(bandSeries(g, lt, quad[r], quadHw[r], 'rgba(255,0,0,0.2)', 'rgba(255,0,0,0.22)'));
    series.push({
      type: 'scatter', name: sensors[r], xAxisIndex: g, yAxisIndex: g, data: pts[r],
      symbolSize: 4.5, itemStyle: { color: dotColors[r], opacity: 1 }, silent: true, z: 3
    });
    series.push({
      type: 'line', name: 'lin.', xAxisIndex: g, yAxisIndex: g, symbol: 'none', showSymbol: false,
      data: lt.map((t, i) => [t, lin[r][i]]), z: 4, silent: true,
      lineStyle: { color: '#111111', width: 1.5 }, itemStyle: { color: '#111111' }
    });
    series.push({
      type: 'line', name: 'quad.', xAxisIndex: g, yAxisIndex: g, symbol: 'none', showSymbol: false,
      data: lt.map((t, i) => [t, quad[r][i]]), z: 5, silent: true,
      lineStyle: { color: '#f21c14', width: 1.5 }, itemStyle: { color: '#f21c14' }
    });
  }
}

const legendBase = {
  data: ['lin.', 'quad.'], orient: 'vertical', top: 39, icon: 'rect',
  itemWidth: 21, itemHeight: 2, itemGap: 4,
  padding: [4, 6, 4, 4], backgroundColor: 'rgba(255,255,255,0.8)', borderColor: '#cccccc',
  borderWidth: 1, borderRadius: 3, selectedMode: false,
  textStyle: { fontSize: 11.5, color: textColor, fontFamily }
};

chart.setOption({
  animation: false,
  backgroundColor: '#ffffff',
  textStyle: { fontFamily },
  title: titles,
  legend: [
    Object.assign({ left: 373 }, legendBase),
    Object.assign({ left: 830 }, legendBase)
  ],
  grid: grids,
  xAxis: xAxes,
  yAxis: yAxes,
  series: series
});
</script>
</body>
</html>
